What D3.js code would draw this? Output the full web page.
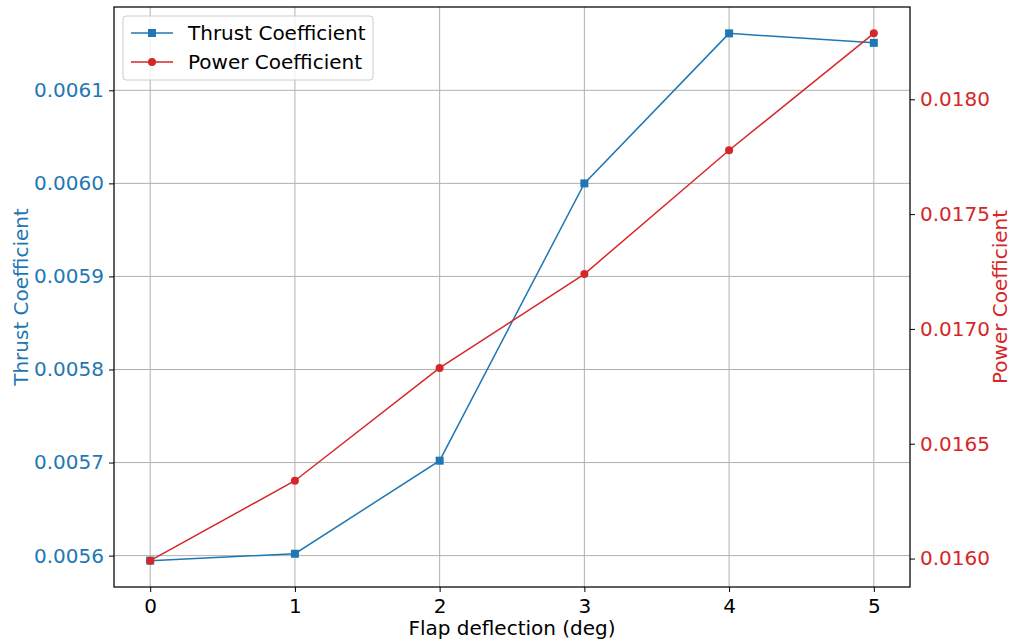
<!DOCTYPE html>
<html>
<head>
<meta charset="utf-8">
<script src="https://cdn.jsdelivr.net/npm/d3@7"></script>
<style>
  body { margin: 0; background: #fff; }
  svg, svg text { font-family: "DejaVu Sans", sans-serif; }
  .grid line { stroke: #b0b0b0; stroke-width: 1; }
</style>
</head>
<body>
<div class="chart"></div>
<script>
var flap = [0, 1, 2, 3, 4, 5];
var thrust = [0.0055946, 0.005602, 0.005702, 0.0060, 0.0061612, 0.006151];
var power = [0.015991, 0.016339, 0.016830, 0.017239, 0.017778, 0.018287];
var thrustTicks = [0.0056, 0.0057, 0.0058, 0.0059, 0.0060, 0.0061];
var powerTicks = [0.0160, 0.0165, 0.0170, 0.0175, 0.0180];

var blue = "#1f77b4", red = "#d62728";
var fontSize = "20px";

var margin = { top: 7, right: 103, bottom: 56, left: 114 },
    width = 1013 - margin.left - margin.right,
    height = 643 - margin.top - margin.bottom;

// matplotlib style 5% margins
function padded(vals) {
    var e = d3.extent(vals), p = (e[1] - e[0]) * 0.05;
    return [e[0] - p, e[1] + p];
}

var x = d3.scaleLinear().domain([-0.25, 5.25]).range([0, width]);
var yL = d3.scaleLinear().domain(padded(thrust)).range([height, 0]);
var yR = d3.scaleLinear().domain(padded(power)).range([height, 0]);

var svg = d3.select(".chart").append("svg")
    .attr("width", 1013)
    .attr("height", 643);

var g = svg.append("g")
    .attr("transform", "translate(" + margin.left + "," + margin.top + ")");

// grid
g.append("g").attr("class", "grid")
    .selectAll("line").data(flap).enter().append("line")
    .attr("x1", d => x(d)).attr("x2", d => x(d))
    .attr("y1", 0).attr("y2", height);
g.append("g").attr("class", "grid")
    .selectAll("line").data(thrustTicks).enter().append("line")
    .attr("x1", 0).attr("x2", width)
    .attr("y1", d => yL(d)).attr("y2", d => yL(d));

// axes
var xAxis = d3.axisBottom(x).tickValues(flap).tickFormat(d3.format("d")).tickSizeOuter(0).tickSize(5).tickPadding(6);
var yAxisL = d3.axisLeft(yL).tickValues(thrustTicks).tickFormat(d3.format(".4f")).tickSizeOuter(0).tickSize(5).tickPadding(5);
var yAxisR = d3.axisRight(yR).tickValues(powerTicks).tickFormat(d3.format(".4f")).tickSizeOuter(0).tickSize(5).tickPadding(5);

function styleAxis(sel, col) {
    sel.attr("font-family", null).attr("font-size", null);
    sel.select(".domain").remove();
    sel.selectAll(".tick line").attr("stroke", "#000").attr("stroke-width", 1);
    sel.selectAll(".tick text").attr("fill", col).style("font-size", fontSize);
}

g.append("g").attr("transform", "translate(0," + height + ")").call(xAxis).call(styleAxis, "#000")
    .selectAll(".tick text").attr("dy", "0.75em");
g.append("g").call(yAxisL).call(styleAxis, blue);
g.append("g").attr("transform", "translate(" + width + ",0)").call(yAxisR).call(styleAxis, red);

// spines
g.append("rect")
    .attr("width", width).attr("height", height)
    .attr("fill", "none").attr("stroke", "#000").attr("stroke-width", 1.25);

// lines
var lineL = d3.line().x((d, i) => x(flap[i])).y(d => yL(d));
var lineR = d3.line().x((d, i) => x(flap[i])).y(d => yR(d));

g.append("path").attr("d", lineL(thrust))
    .attr("fill", "none").attr("stroke", blue).attr("stroke-width", 1.5);
g.selectAll(".sq").data(thrust).enter().append("rect")
    .attr("class", "sq")
    .attr("x", (d, i) => x(flap[i]) - 4).attr("y", d => yL(d) - 4)
    .attr("width", 8).attr("height", 8).attr("fill", blue);

g.append("path").attr("d", lineR(power))
    .attr("fill", "none").attr("stroke", red).attr("stroke-width", 1.5);
g.selectAll(".dot").data(power).enter().append("circle")
    .attr("class", "dot")
    .attr("cx", (d, i) => x(flap[i])).attr("cy", d => yR(d))
    .attr("r", 4).attr("fill", red);

// axis labels
svg.append("text")
    .attr("x", margin.left + width / 2).attr("y", 635)
    .attr("text-anchor", "middle").style("font-size", fontSize)
    .text("Flap deflection (deg)");
svg.append("text")
    .attr("transform", "translate(28," + (margin.top + height / 2) + ") rotate(-90)")
    .attr("text-anchor", "middle").attr("fill", blue).style("font-size", fontSize)
    .text("Thrust Coefficient");
svg.append("text")
    .attr("transform", "translate(1007," + (margin.top + height / 2) + ") rotate(-90)")
    .attr("text-anchor", "middle").attr("fill", red).style("font-size", fontSize)
    .text("Power Coefficient");

// legend
var legend = g.append("g").attr("transform", "translate(9,9)");
legend.append("rect")
    .attr("width", 250).attr("height", 64).attr("rx", 3)
    .attr("fill", "#fff").attr("fill-opacity", 0.8)
    .attr("stroke", "#ccc").attr("stroke-width", 1);
var items = [
    { name: "Thrust Coefficient", color: blue, shape: "sq" },
    { name: "Power Coefficient", color: red, shape: "dot" }
];
var li = legend.selectAll(".item").data(items).enter().append("g")
    .attr("transform", (d, i) => "translate(0," + (17 + i * 29) + ")");
li.append("line").attr("x1", 8).attr("x2", 50)
    .attr("stroke", d => d.color).attr("stroke-width", 1.5);
li.filter(d => d.shape === "sq").append("rect")
    .attr("x", 25).attr("y", -4).attr("width", 8).attr("height", 8).attr("fill", d => d.color);
li.filter(d => d.shape === "dot").append("circle")
    .attr("cx", 29).attr("r", 4).attr("fill", d => d.color);
li.append("text").attr("x", 65).attr("dy", "0.35em")
    .style("font-size", fontSize).text(d => d.name);
</script>
</body>
</html>
